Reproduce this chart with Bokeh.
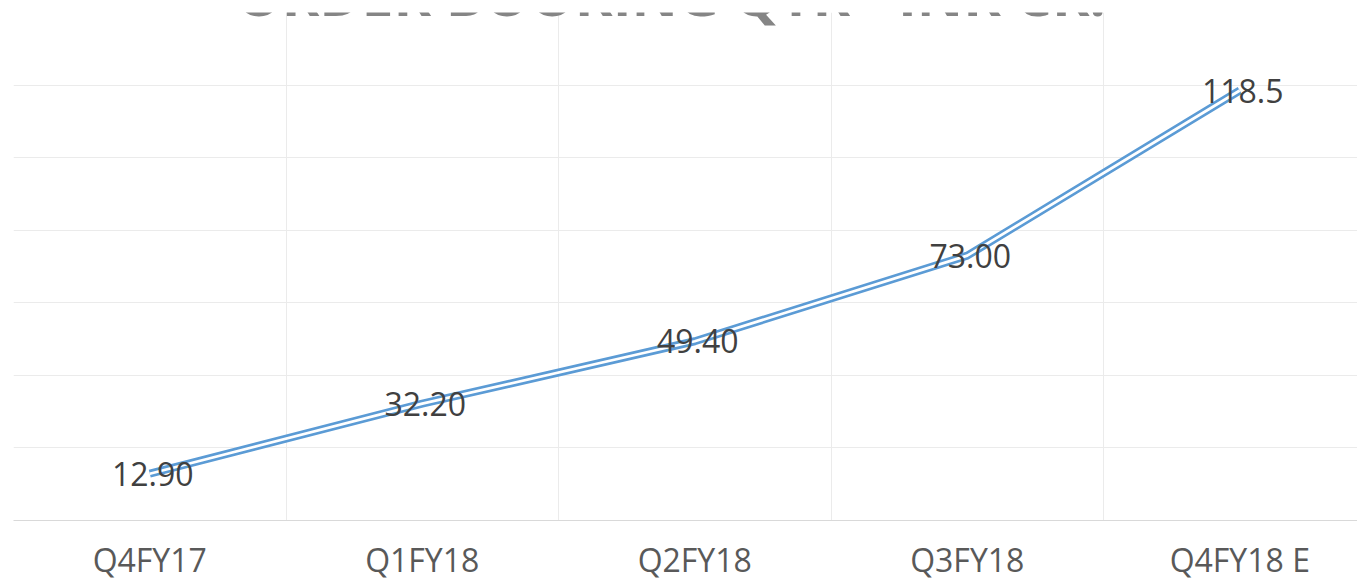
from bokeh.plotting import figure
from bokeh.models import Range1d, FixedTicker, Label
from bokeh.core.properties import value
from bokeh.embed import file_html
from bokeh.resources import INLINE

title_text = "ORDER BOOKING QTR - INR CR."
categories = ["Q4FY17", "Q1FY18", "Q2FY18", "Q3FY18", "Q4FY18 E"]
values = [12.90, 32.20, 49.40, 73.00, 118.5]
labels = ["12.90", "32.20", "49.40", "73.00", "118.5"]
yticks = [0, 20, 40, 60, 80, 100, 120, 140]

FONT = "Open Sans"
n = len(categories)
xs = [i + 0.5 for i in range(n)]

p = figure(width=1357, height=583,
           x_range=Range1d(0, 4.932), y_range=Range1d(0, 140),
           output_backend="svg", toolbar_location=None,
           min_border_left=13, min_border_right=0,
           min_border_top=12, min_border_bottom=63)
p.outline_line_color = None
p.background_fill_color = "white"

# grids
p.xgrid.ticker = FixedTicker(ticks=list(range(n + 1)))
p.ygrid.ticker = FixedTicker(ticks=yticks)
p.xgrid.grid_line_color = "#ebebeb"
p.ygrid.grid_line_color = "#ebebeb"
p.xgrid.grid_line_width = 1
p.ygrid.grid_line_width = 1

# axes
p.yaxis.visible = False
ax = p.xaxis[0]
ax.ticker = FixedTicker(ticks=xs)
ax.major_label_overrides = {x: c for x, c in zip(xs, categories)}
ax.axis_line_color = "#d9d9d9"
ax.axis_line_width = 1
ax.major_tick_line_color = None
ax.minor_tick_line_color = None
ax.major_tick_out = 0
ax.major_tick_in = 0
ax.major_label_standoff = 17
ax.major_label_text_font = FONT
ax.major_label_text_font_size = "32px"
ax.major_label_text_color = "#595959"

# double line
p.line(xs, values, line_color="#5B9BD5", line_width=8, line_join="round")
p.line(xs, values, line_color="white", line_width=2.7, line_join="round")

# data labels
p.text(xs, values, text=labels, text_align="center", text_baseline="middle",
       x_offset=3, text_font=value(FONT), text_font_size="32px",
       text_color="#404040")

# title (cut off at the top, as in the reference)
p.add_layout(Label(x=2.413, y=145.1, text=title_text, text_align="center",
                   text_baseline="alphabetic", text_font=FONT,
                   text_font_size="57px", text_font_style="bold",
                   text_color="#858585"))

open("out.html", "w").write(file_html(p, INLINE))
